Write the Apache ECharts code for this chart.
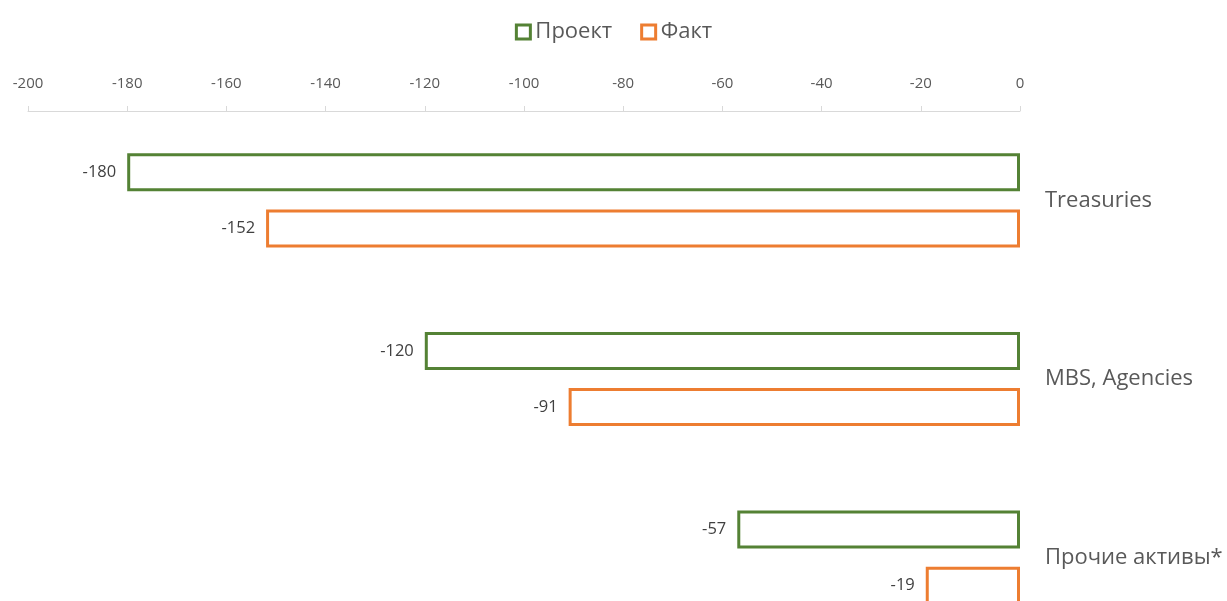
<!DOCTYPE html>
<html><head><meta charset="utf-8">
<script src="https://cdn.jsdelivr.net/npm/echarts@6/dist/echarts.min.js"></script>
<style>html,body{margin:0;padding:0;background:#fff}#c{width:1227px;height:601px}</style>
</head><body><div id="c"></div>
<script>
const categories = ['Treasuries', 'MBS, Agencies', 'Прочие активы*'];
const seriesNames = ['Проект', 'Факт'];
const projectValues = [-180, -120, -57];
const factValues = [-152, -91, -19];
const xTicks = {min: -200, max: 0, interval: 20};

const chart = echarts.init(document.getElementById('c'));
const font = '"Open Sans", "Noto Sans", sans-serif';
const labelStyle = {show: true, position: 'left', distance: 11, color: '#404040', fontSize: 16.5, fontFamily: font};
chart.setOption({
  animation: false,
  legend: {
    top: 16, left: 'center', icon: 'rect', itemWidth: 14, itemHeight: 14, itemGap: 28, itemStyle: {borderWidth: 3},
    textStyle: {color: '#595959', fontSize: 22, fontFamily: font},
    data: seriesNames
  },
  grid: {left: 28, top: 111, width: 992, height: 536, containLabel: false, outerBoundsMode: 'none'},
  xAxis: {
    type: 'value', position: 'top', min: xTicks.min, max: xTicks.max, interval: xTicks.interval,
    axisLine: {show: true, lineStyle: {color: '#d9d9d9', width: 1}},
    axisTick: {show: true, length: 5, lineStyle: {color: '#d9d9d9'}},
    splitLine: {show: false},
    axisLabel: {color: '#595959', fontSize: 15, fontFamily: font, margin: 20}
  },
  yAxis: {
    type: 'category', data: categories, inverse: true, position: 'right',
    axisLine: {show: false}, axisTick: {show: false},
    axisLabel: {color: '#595959', fontSize: 22, fontFamily: font, margin: 25, align: 'left'}
  },
  series: [
    {name: seriesNames[0], type: 'bar', data: projectValues, barWidth: 38, barGap: '48%', barCategoryGap: '47%',
     itemStyle: {color: '#ffffff', borderColor: '#548235', borderWidth: 3}, label: labelStyle},
    {name: seriesNames[1], type: 'bar', data: factValues, barWidth: 38,
     itemStyle: {color: '#ffffff', borderColor: '#ED7D31', borderWidth: 3}, label: labelStyle}
  ]
});
</script></body></html>
